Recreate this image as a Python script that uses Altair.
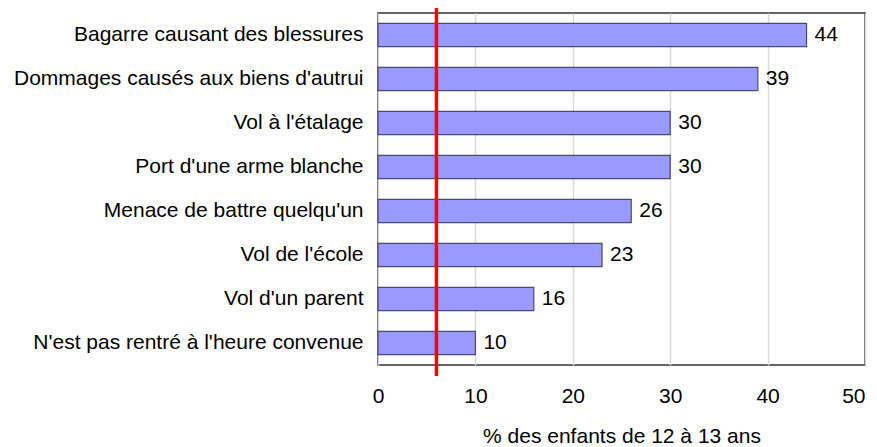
import altair as alt
import pandas as pd

categories = [
    "Bagarre causant des blessures",
    "Dommages causés aux biens d'autrui",
    "Vol à l'étalage",
    "Port d'une arme blanche",
    "Menace de battre quelqu'un",
    "Vol de l'école",
    "Vol d'un parent",
    "N'est pas rentré à l'heure convenue",
]
values = [44, 39, 30, 30, 26, 23, 16, 10]
ref_value = [6]

df = pd.DataFrame({"cat": categories, "val": values})
ref = pd.DataFrame({"x": ref_value})

W, H = 487, 352
font = "Liberation Sans"
FS = 21

x_enc = alt.X(
    "val:Q",
    scale=alt.Scale(domain=[0, 50], nice=False),
    axis=alt.Axis(
        values=[0, 10, 20, 30, 40, 50],
        title="% des enfants de 12 à 13 ans",
        titleFontSize=FS, titleFontWeight="normal", titleFont=font, titleColor="black",
        titlePadding=19,
        labelFontSize=FS, labelFont=font, labelColor="black", labelPadding=20,
        labelFlush=False, labelOverlap=False,
        labelAlign=alt.expr("datum.value == 50 ? 'right' : 'center'"),
        ticks=False, domain=False, grid=True, gridColor="#d9d9d9", gridWidth=1.5,
    ),
)
y_enc = alt.Y(
    "cat:N",
    sort=categories,
    scale=alt.Scale(paddingInner=0.47, paddingOuter=0.235),
    axis=alt.Axis(
        title=None, ticks=False, domain=False,
        labelFontSize=FS, labelFont=font, labelColor="black", labelPadding=15,
        labelLimit=400,
    ),
)

bars = alt.Chart(df).mark_bar(
    color="#9999ff", stroke="#4a4a6a", strokeWidth=1.2
).encode(x=x_enc, y=y_enc)

labels = alt.Chart(df).mark_text(
    align="left", baseline="middle", dx=8, fontSize=FS, font=font, color="black"
).encode(x="val:Q", y=alt.Y("cat:N", sort=categories), text="val:Q")

rule = alt.Chart(ref).mark_rule(color="#ff0000", strokeWidth=3.5).encode(
    x="x:Q", y=alt.value(-13), y2=alt.value(H + 11)
)

chart = alt.layer(bars, labels, rule).properties(
    width=W, height=H,
    padding={"left": 370, "top": 5, "right": 4, "bottom": 95},
    autosize=alt.AutoSizeParams(type="none"),
).configure_view(
    stroke="#333333", strokeWidth=1.5
)

chart.save("out.html", embed_options={"renderer": "svg", "actions": False})
